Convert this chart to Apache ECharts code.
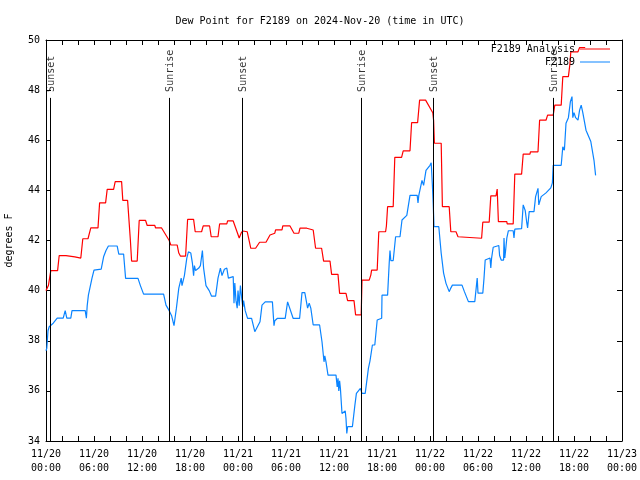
<!DOCTYPE html>
<html>
<head>
<meta charset="utf-8">
<script src="https://cdn.jsdelivr.net/npm/echarts@6/dist/echarts.min.js"></script>
<style>html,body{margin:0;padding:0;background:#fff}#c{width:640px;height:480px}</style>
</head>
<body>
<div id="c"></div>
<script>
// hours since 2024-11-20 00:00 UTC, dew point (F)
const analysisSeries = [
[0.0,40.0],[0.25,40.0],[0.3,40.2],[0.6,40.8],[1.45,40.8],[1.65,41.4],[2.5,41.4],[2.55,41.35],[3.6,41.35],[3.65,41.3],[4.35,41.3],[4.6,42.07],[5.25,42.07],[5.6,42.5],[6.5,42.5],[6.7,43.5],[7.45,43.5],[7.65,44.04],[8.45,44.04],[8.65,44.35],[9.45,44.35],[9.6,43.6],[10.2,43.6],[10.55,42.0],[10.7,41.18],[11.4,41.18],[11.65,42.8],[12.45,42.8],[12.65,42.6],[13.6,42.6],[13.7,42.5],[14.45,42.5],[15.4,42.0],[15.6,41.82],[16.4,41.82],[16.6,41.5],[16.8,41.38],[17.45,41.38],[17.7,42.84],[18.45,42.84],[18.65,42.35],[19.45,42.35],[19.65,42.58],[20.45,42.58],[20.65,42.15],[21.5,42.15],[21.7,42.66],[22.6,42.66],[22.7,42.78],[23.4,42.78],[24.15,42.1],[24.4,42.3],[24.6,42.38],[25.15,42.35],[25.6,41.69],[26.2,41.69],[26.7,41.93],[27.5,41.93],[28.0,42.22],[28.6,42.29],[28.7,42.42],[29.5,42.42],[29.6,42.58],[30.5,42.58],[31.0,42.29],[31.6,42.29],[31.75,42.49],[32.6,42.49],[32.7,42.42],[33.4,42.42],[33.7,41.69],[34.45,41.69],[34.7,41.18],[35.5,41.18],[35.7,40.65],[36.5,40.65],[36.7,39.89],[37.5,39.89],[37.7,39.6],[38.5,39.6],[38.7,39.03],[39.4,39.03],[39.5,40.42],[40.4,40.42],[40.6,40.62],[40.7,40.82],[41.4,40.82],[41.6,42.35],[42.45,42.35],[42.55,42.58],[42.7,43.35],[43.4,43.35],[43.6,45.32],[44.45,45.32],[44.65,45.58],[45.5,45.58],[45.7,46.7],[46.45,46.7],[46.7,47.6],[47.45,47.6],[48.35,47.1],[48.45,46.8],[48.55,45.88],[49.4,45.88],[49.55,43.35],[50.4,43.35],[50.6,42.35],[51.25,42.35],[51.5,42.15],[51.75,42.09],[54.45,42.09],[54.6,42.73],[55.4,42.73],[55.6,43.78],[56.25,43.78],[56.4,44.05],[56.55,42.75],[57.6,42.75],[57.65,42.66],[58.4,42.66],[58.6,44.65],[59.45,44.65],[59.65,45.45],[60.5,45.45],[60.55,45.54],[61.5,45.54],[61.7,46.8],[62.5,46.8],[62.7,47.0],[63.4,47.0],[63.6,47.4],[64.4,47.4],[64.6,48.54],[65.3,48.54],[65.5,49.07],[65.6,49.53],[66.5,49.53],[66.7,49.7],[67.4,49.7]
];
const observedSeries = [
[0.0,37.6],[0.1,37.7],[0.25,38.4],[0.4,38.56],[0.9,38.7],[1.4,38.9],[2.15,38.9],[2.4,39.2],[2.6,38.9],[3.1,38.9],[3.25,39.2],[4.9,39.2],[5.05,38.9],[5.15,39.4],[5.3,39.82],[5.55,39.85],[5.75,40.5],[6.0,40.82],[6.9,40.86],[7.2,41.35],[7.5,41.6],[7.8,41.78],[8.9,41.78],[9.1,41.46],[9.7,41.46],[9.95,40.49],[11.5,40.49],[11.8,40.2],[12.2,39.86],[14.7,39.86],[15.0,39.42],[15.4,39.2],[15.7,39.0],[16.0,38.6],[16.3,39.3],[16.6,40.1],[16.9,40.5],[17.0,40.2],[17.3,40.6],[17.6,41.3],[17.8,41.55],[18.1,41.5],[18.3,41.1],[18.45,40.6],[18.55,41.0],[18.7,40.8],[19.1,40.9],[19.3,41.0],[19.55,41.6],[19.7,40.9],[20.0,40.2],[20.4,40.0],[20.7,39.78],[21.2,39.78],[21.5,40.5],[21.8,40.9],[22.0,40.6],[22.3,40.85],[22.6,40.9],[22.8,40.5],[23.0,40.56],[23.4,40.56],[23.5,39.5],[23.6,40.3],[23.75,39.6],[23.9,39.3],[24.0,40.0],[24.15,39.4],[24.3,40.2],[24.5,39.6],[24.6,39.35],[24.7,39.6],[24.9,39.2],[25.2,38.89],[25.7,38.89],[26.1,38.36],[26.3,38.4],[26.75,38.76],[27.0,39.42],[27.4,39.55],[28.3,39.55],[28.5,38.6],[28.6,38.8],[28.9,38.89],[29.9,38.89],[30.2,39.55],[30.4,39.55],[30.9,38.89],[31.7,38.89],[32.0,39.92],[32.35,39.92],[32.7,39.3],[32.9,39.5],[33.1,39.3],[33.4,38.63],[34.2,38.63],[34.5,37.96],[34.7,37.96],[34.75,37.16],[34.85,37.4],[35.0,37.16],[35.25,36.63],[36.25,36.63],[36.4,36.16],[36.5,36.5],[36.6,36.0],[36.7,36.4],[36.8,36.1],[37.0,35.1],[37.4,35.2],[37.5,34.9],[37.6,34.3],[37.7,34.57],[38.3,34.57],[38.6,35.4],[38.8,35.9],[39.3,36.1],[39.5,35.9],[39.9,35.9],[40.3,36.9],[40.5,37.2],[40.8,37.83],[41.1,37.83],[41.4,38.83],[41.96,38.9],[42.0,39.82],[42.7,39.82],[42.9,41.09],[43.0,41.6],[43.1,41.2],[43.4,41.2],[43.7,42.15],[44.25,42.15],[44.5,42.82],[45.1,43.0],[45.5,43.8],[46.4,43.8],[46.5,43.5],[46.6,43.8],[47.0,44.4],[47.2,44.2],[47.3,44.4],[47.5,44.8],[48.0,45.0],[48.15,45.1],[48.3,44.2],[48.4,43.48],[48.5,42.55],[49.1,42.55],[49.4,41.49],[49.7,40.7],[50.0,40.29],[50.4,39.96],[50.6,40.1],[50.8,40.22],[52.0,40.22],[52.3,39.96],[52.8,39.56],[53.6,39.56],[53.9,40.5],[54.0,39.9],[54.6,39.9],[54.75,40.49],[54.9,41.22],[55.5,41.3],[55.6,40.9],[55.7,41.3],[55.9,41.73],[56.0,41.8],[56.6,41.8],[56.7,41.4],[56.9,41.22],[57.2,41.22],[57.25,42.1],[57.35,41.3],[57.45,41.6],[57.6,42.09],[57.8,42.39],[58.4,42.39],[58.5,42.1],[58.6,42.45],[59.45,42.47],[59.65,43.42],[59.9,43.2],[60.1,42.7],[60.2,42.5],[60.4,43.15],[61.0,43.15],[61.2,43.75],[61.5,44.08],[61.6,43.42],[61.9,43.75],[62.1,43.8],[62.5,43.9],[63.1,44.1],[63.3,44.3],[63.4,45.0],[64.4,45.0],[64.6,45.74],[64.8,45.6],[65.0,46.68],[65.3,46.9],[65.55,47.54],[65.75,47.74],[65.85,46.9],[66.0,47.1],[66.2,46.9],[66.5,46.8],[66.7,47.2],[66.9,47.4],[67.1,47.1],[67.5,46.4],[68.1,45.95],[68.5,45.2],[68.7,44.6]
];
const eventHours = [0.58, 15.41, 24.5, 39.41, 48.42, 63.41];
const eventLabels = ['Sunset','Sunrise','Sunset','Sunrise','Sunset','Sunrise'];
const seriesNames = ['F2189 Analysis', 'F2189'];
const titleText = 'Dew Point for F2189 on 2024-Nov-20 (time in UTC)';
const yName = 'degrees F';

const FONT = 'DejaVu Sans Mono';
const lineTop = 47.69;
function pad(n){return (n<10?'0':'')+n;}
function xLabel(v){
  if (Math.round(v) % 6 !== 0) return '';
  const day = 20 + Math.floor(v/24);
  const hr = Math.round(v) % 24;
  return '11/' + day + '\n' + pad(hr) + ':00';
}
const axisCommon = {
  axisLine:{show:true,onZero:false,lineStyle:{color:'#000',width:1}},
  axisTick:{show:true,inside:true,length:5,lineStyle:{color:'#000'}},
  splitLine:{show:false}
};
const legendCommon = {right:30,padding:0,align:'right',itemWidth:30,itemHeight:1,icon:'rect',
  textStyle:{fontFamily:FONT,fontSize:10,color:'#000'}};
const chart = echarts.init(document.getElementById('c'), null, {renderer:'canvas'});
chart.setOption({
  animation:false,
  backgroundColor:'#fff',
  textStyle:{fontFamily:FONT},
  title:{text:titleText,left:'center',top:11,textStyle:{fontFamily:FONT,fontSize:10,fontWeight:'normal',color:'#000'}},
  grid:{left:46,right:18,top:40,bottom:39,containLabel:false,outerBoundsMode:'none'},
  legend:[
    Object.assign({data:[seriesNames[0]],top:44}, legendCommon),
    Object.assign({data:[seriesNames[1]],top:57}, legendCommon)
  ],
  xAxis:[
    Object.assign({type:'value',min:0,max:72,interval:2,position:'bottom',
      axisLabel:{formatter:xLabel,fontFamily:FONT,fontSize:10,color:'#000',margin:6,lineHeight:14}}, axisCommon),
    Object.assign({type:'value',min:0,max:72,interval:2,position:'top',axisLabel:{show:false}}, axisCommon)
  ],
  yAxis:[
    Object.assign({type:'value',min:34,max:50,interval:2,position:'left',
      name:yName,nameLocation:'middle',nameGap:32,nameRotate:90,
      nameTextStyle:{fontFamily:FONT,fontSize:10,color:'#000'},
      axisLabel:{fontFamily:FONT,fontSize:10,color:'#000',margin:6}}, axisCommon),
    Object.assign({type:'value',min:34,max:50,interval:2,position:'right',axisLabel:{show:false}}, axisCommon)
  ],
  series:[
    {name:seriesNames[0],type:'line',data:analysisSeries,showSymbol:false,symbol:'none',
     lineStyle:{color:'#ff0000',width:1.2},itemStyle:{color:'#ff0000'},z:3},
    {name:seriesNames[1],type:'line',data:observedSeries,showSymbol:false,symbol:'none',
     lineStyle:{color:'#0a84ff',width:1.2},itemStyle:{color:'#0a84ff'},z:3},
    {name:'events',type:'scatter',symbolSize:0,silent:true,z:4,
     data:eventHours.map((h,i)=>[h,lineTop,eventLabels[i]]),
     label:{show:true,rotate:90,position:[1,-6],align:'left',verticalAlign:'middle',
       formatter:p=>p.value[2],fontFamily:FONT,fontSize:10,color:'#000'},
     markLine:{silent:true,symbol:['none','none'],label:{show:false},
       lineStyle:{color:'#000',width:1,type:'solid'},
       data:eventHours.map(h=>[{coord:[h,34]},{coord:[h,lineTop]}])}
    }
  ]
});
</script>
</body>
</html>
